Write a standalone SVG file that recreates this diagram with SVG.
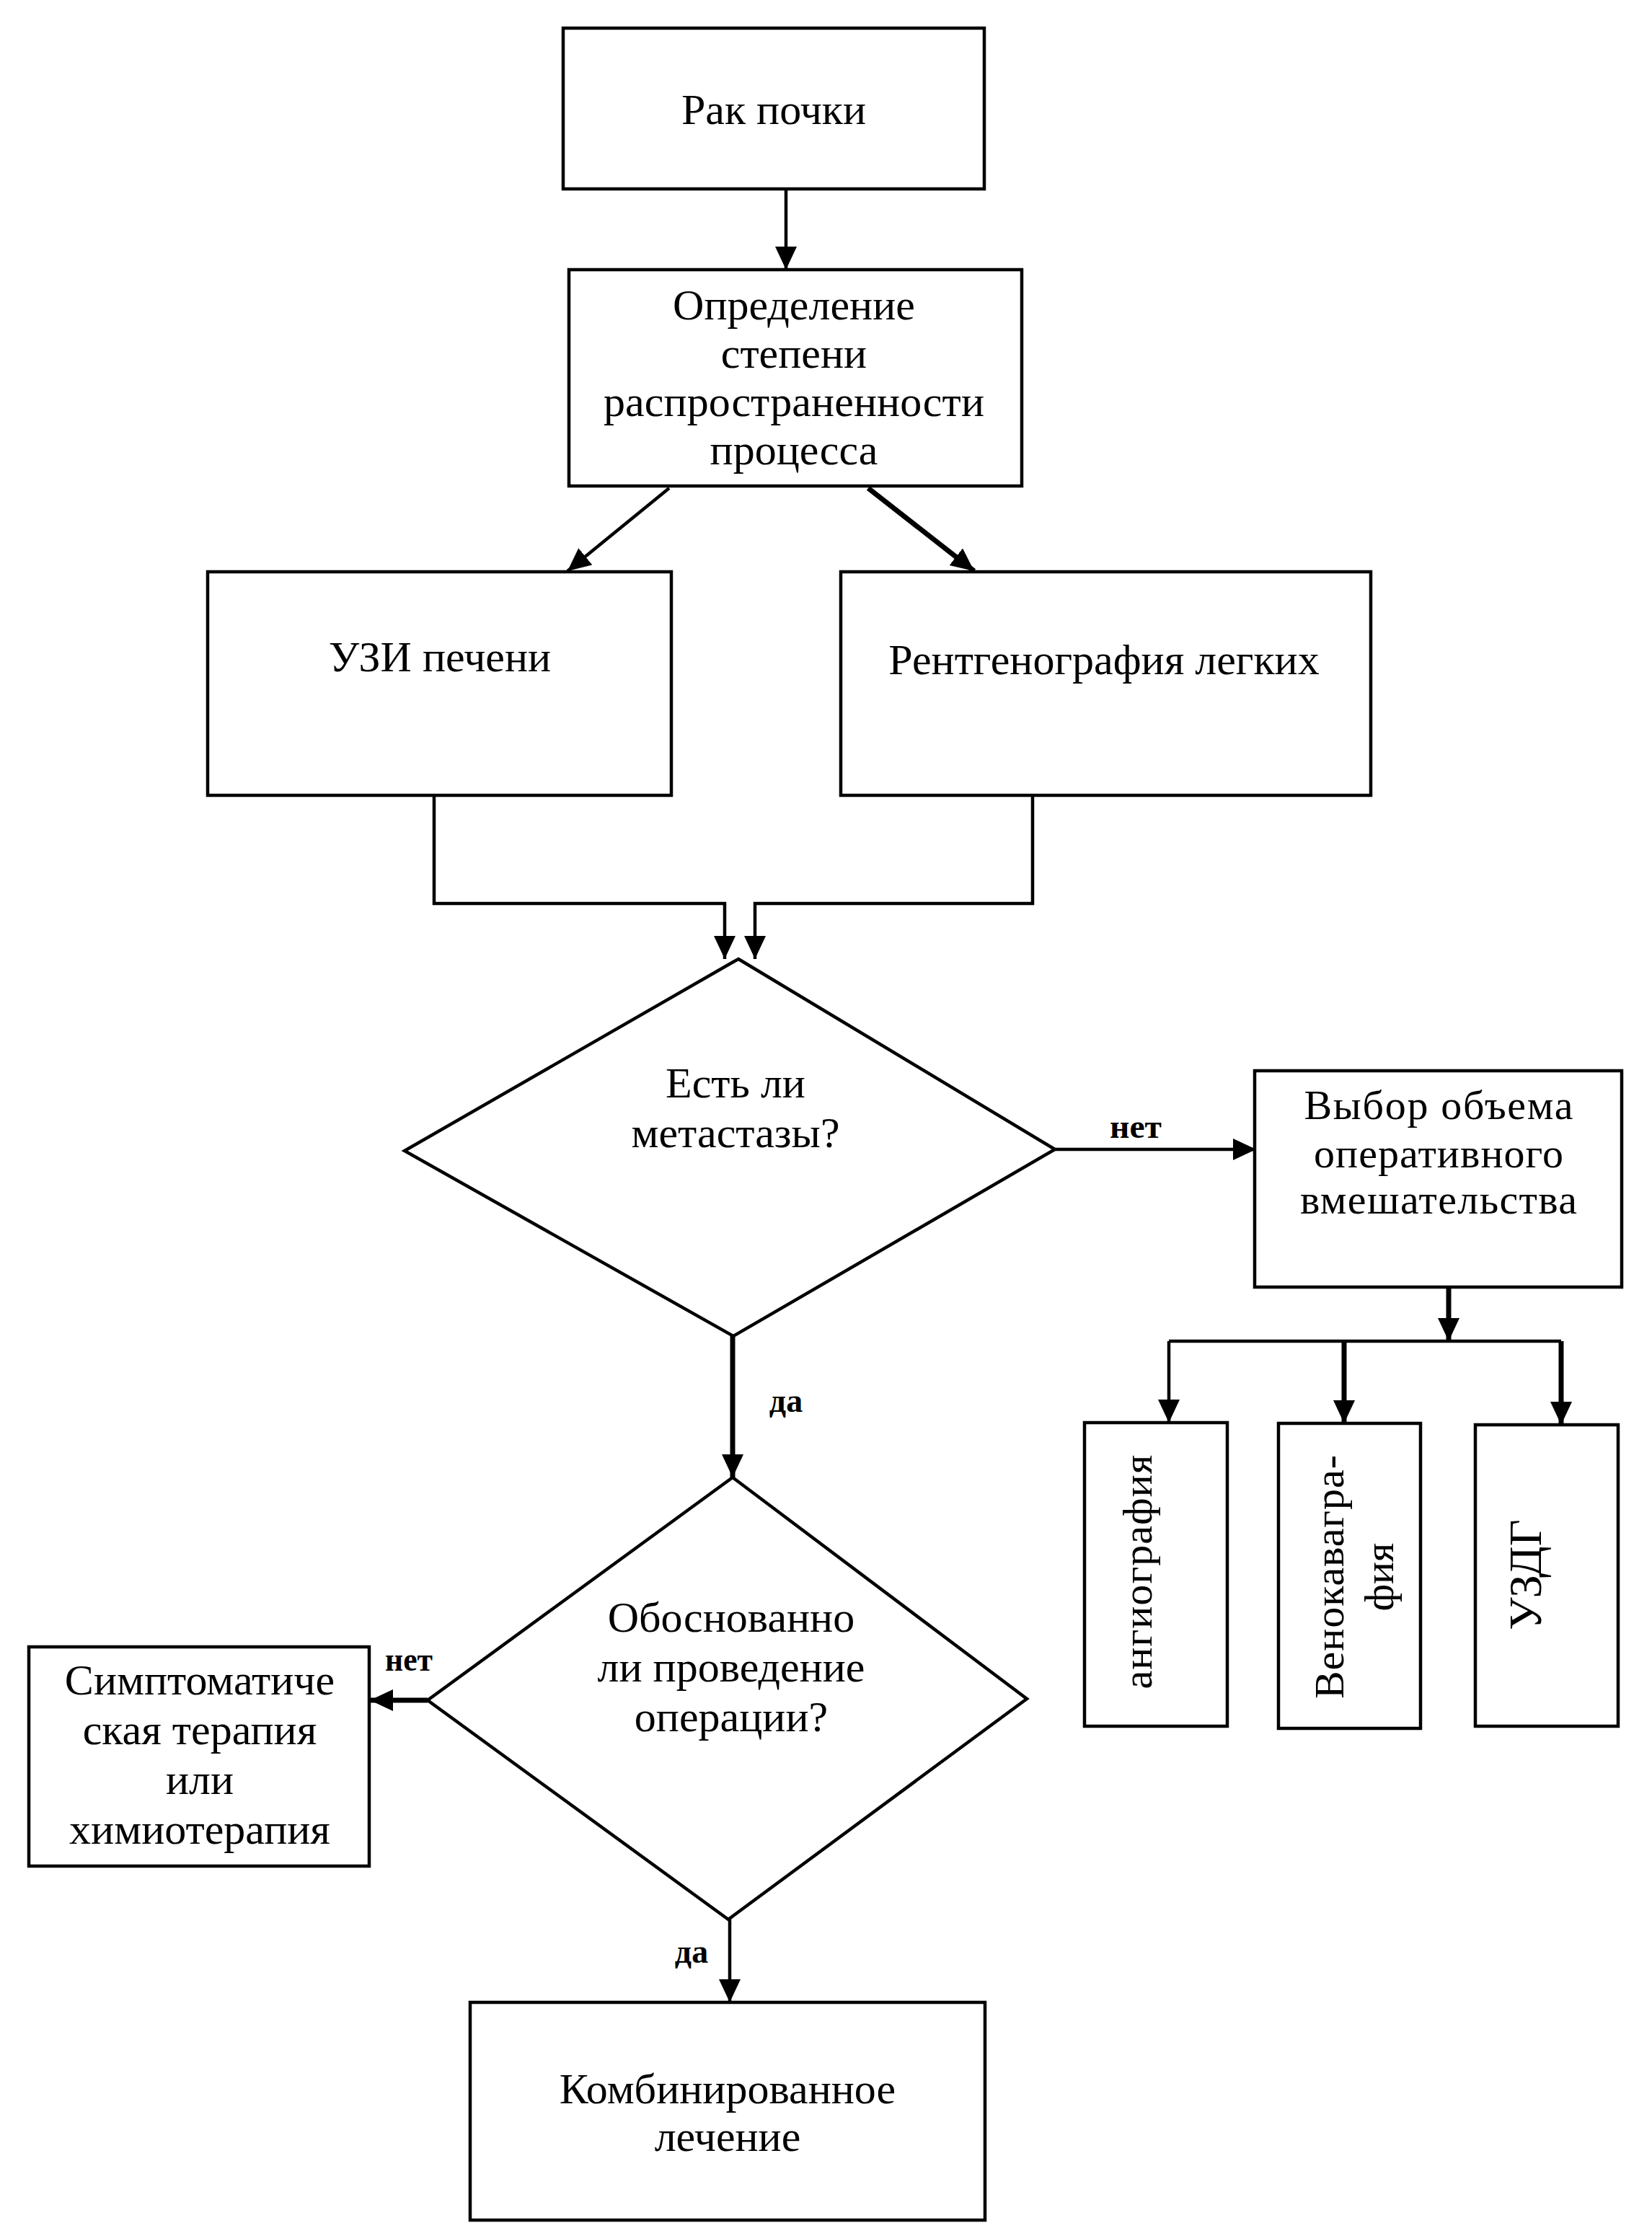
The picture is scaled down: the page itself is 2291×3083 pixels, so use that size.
<svg xmlns="http://www.w3.org/2000/svg" width="2291" height="3083" viewBox="0 0 2291 3083">
<style>
.box{fill:#fff;stroke:#000;stroke-width:4.5}
.t{font-family:"Liberation Serif","Times New Roman",serif;font-size:60px;fill:#000;text-anchor:middle}
.m{font-family:"Liberation Serif","Times New Roman",serif;font-size:58px;fill:#000;text-anchor:middle}
.lbl{font-family:"Liberation Serif","Times New Roman",serif;font-size:46px;font-weight:bold;fill:#000;text-anchor:middle}
.da{font-family:"Liberation Serif","Times New Roman",serif;font-size:46px;font-weight:bold;fill:#000;text-anchor:middle}
.c{fill:none;stroke:#000;stroke-width:4.5}
.ck{fill:none;stroke:#000;stroke-width:7}
</style>
<defs>
<marker id="ah" markerUnits="userSpaceOnUse" markerWidth="34" markerHeight="32" refX="32" refY="15" orient="auto">
<path d="M0,0 L32,15 L0,30 z" fill="#000"/>
</marker>
</defs>
<rect width="2291" height="3083" fill="#fff"/>

<g id="connectors">
<path class="c" d="M1090,262 L1090,374" marker-end="url(#ah)"/>
<path class="c" d="M928,677 L787,792" marker-end="url(#ah)"/>
<path class="ck" d="M1204,677 L1351,792" marker-end="url(#ah)"/>
<path class="c" d="M602,1103 L602,1253 L1005,1253 L1005,1330" marker-end="url(#ah)"/>
<path class="c" d="M1432,1103 L1432,1253 L1047,1253 L1047,1330" marker-end="url(#ah)"/>
<path class="c" d="M1463,1594 L1742,1594" marker-end="url(#ah)"/>
<path class="ck" d="M1016,1853 L1016,2049" marker-end="url(#ah)"/>
<path class="ck" d="M593,2358 L513,2358" marker-end="url(#ah)"/>
<path class="c" d="M1012,2662 L1012,2777" marker-end="url(#ah)"/>
<path class="ck" d="M2009,1785 L2009,1860" marker-end="url(#ah)"/>
<path class="c" d="M1621,1860 L2165,1860"/>
<path class="c" d="M1621,1860 L1621,1973" marker-end="url(#ah)"/>
<path class="ck" d="M1864,1860 L1864,1974" marker-end="url(#ah)"/>
<path class="ck" d="M2165,1860 L2165,1976" marker-end="url(#ah)"/>
<text class="lbl" x="1575" y="1578" textLength="72" lengthAdjust="spacingAndGlyphs">нет</text>
<text class="da" x="1090" y="1958">да</text>
<text class="lbl" x="567" y="2317" textLength="66" lengthAdjust="spacingAndGlyphs">нет</text>
<text class="da" x="959" y="2722">да</text>
</g>

<g id="n1">
<rect class="box" x="781" y="39" width="584" height="223"/>
<text class="t" x="1073" y="172">Рак почки</text>
</g>
<g id="n2">
<rect class="box" x="789" y="374" width="628" height="300"/>
<text class="t" x="1101" y="443">Определение</text>
<text class="t" x="1101" y="510">степени</text>
<text class="t" x="1101" y="577" textLength="528">распространенности</text>
<text class="t" x="1101" y="644">процесса</text>
</g>
<g id="n3">
<rect class="box" x="288" y="793" width="643" height="310"/>
<text class="t" x="610" y="931">УЗИ печени</text>
</g>
<g id="n4">
<rect class="box" x="1166" y="793" width="735" height="310"/>
<text class="t" x="1531" y="935">Рентгенография легких</text>
</g>
<g id="n5">
<polygon class="box" points="1024,1330 1463,1594 1017,1853 561,1596"/>
<text class="t" x="1020" y="1522">Есть ли</text>
<text class="t" x="1020" y="1591">метастазы?</text>
</g>
<g id="n6">
<rect class="box" x="1740" y="1485" width="509" height="300"/>
<text class="m" x="1995" y="1552" textLength="373">Выбор объема</text>
<text class="m" x="1995" y="1619" textLength="346">оперативного</text>
<text class="m" x="1995" y="1683" textLength="384">вмешательства</text>
</g>
<g id="n7">
<rect class="box" x="1504" y="1973" width="198" height="421"/>
<text class="m" transform="translate(1597,2180) rotate(-90)" textLength="325">ангиография</text>
</g>
<g id="n8">
<rect class="box" x="1773" y="1974" width="197" height="423"/>
<text class="m" transform="translate(1863,2187) rotate(-90)" textLength="338">Венокавагра-</text>
<text class="m" transform="translate(1932,2187) rotate(-90)" textLength="95">фия</text>
</g>
<g id="n9">
<rect class="box" x="2046" y="1976" width="198" height="418"/>
<text class="t" style="font-size:64px" transform="translate(2137,2184) rotate(-90)">УЗДГ</text>
</g>
<g id="n10">
<polygon class="box" points="1016,2049 1424,2356 1010,2662 593,2358"/>
<text class="t" x="1014" y="2263">Обоснованно</text>
<text class="t" x="1014" y="2332">ли проведение</text>
<text class="t" x="1014" y="2401">операции?</text>
</g>
<g id="n11">
<rect class="box" x="40" y="2284" width="472" height="304"/>
<text class="t" x="277" y="2350">Симптоматиче</text>
<text class="t" x="277" y="2419">ская терапия</text>
<text class="t" x="277" y="2488">или</text>
<text class="t" x="277" y="2557">химиотерапия</text>
</g>
<g id="n12">
<rect class="box" x="652" y="2777" width="714" height="302"/>
<text class="t" x="1009" y="2917">Комбинированное</text>
<text class="t" x="1009" y="2983">лечение</text>
</g>
</svg>
